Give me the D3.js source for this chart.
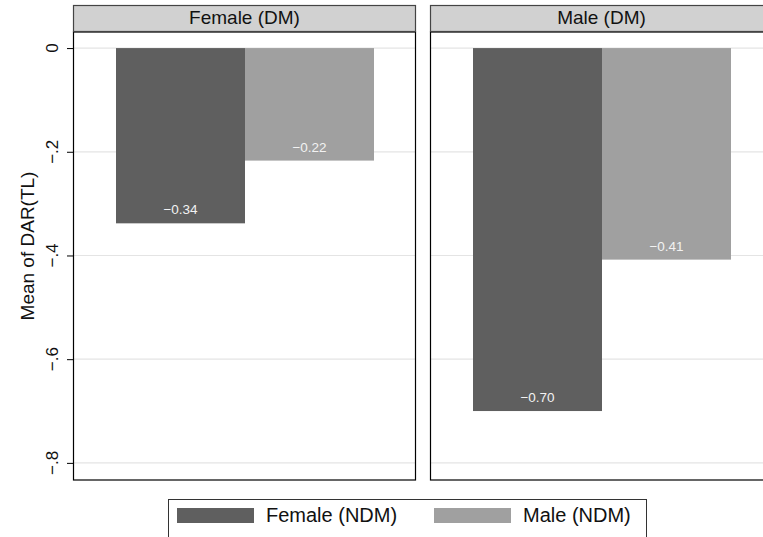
<!DOCTYPE html>
<html>
<head>
<meta charset="utf-8">
<script src="https://cdn.jsdelivr.net/npm/d3@7"></script>
<style>
  body { margin: 0; background: #fff; }
  svg { display: block; font-family: "Liberation Sans", Arial, sans-serif; }
</style>
</head>
<body>
<div id="chart"></div>
<script>
var panels = ["Female (DM)", "Male (DM)"];
var series = ["Female (NDM)", "Male (NDM)"];
var femaleNdm = [-0.338, -0.70];
var maleNdm = [-0.217, -0.408];
var yTicks = [0, -0.2, -0.4, -0.6, -0.8];
var colors = ["#5f5f5f", "#a0a0a0"];

var W = 763, H = 537;
var plotTop = 32, plotBottom = 480;

var svg = d3.select("#chart").append("svg")
    .attr("width", W)
    .attr("height", H);

var panelX = d3.scaleBand()
    .domain(panels)
    .range([73, 773])
    .paddingInner(14 / 357);

var barX = d3.scaleBand()
    .domain(series)
    .range([43, panelX.bandwidth() - 42]);

var y = d3.scaleLinear()
    .domain([-0.833, 0.031])
    .range([plotBottom, plotTop]);

var color = d3.scaleOrdinal().domain(series).range(colors);

var fmt = function(d) {
  if (d === 0) return "0";
  return (d < 0 ? "\u2212" : "") + String(Math.abs(d)).replace(/^0/, "");
};

var rows = panels.map(function(p, i) {
  return { panel: p, values: [femaleNdm[i], maleNdm[i]] };
});

var g = svg.selectAll("g.panel")
  .data(rows)
  .enter().append("g")
    .attr("class", "panel")
    .attr("transform", function(d) { return "translate(" + panelX(d.panel) + ",0)"; });

// gridlines
g.selectAll("line.grid")
  .data(yTicks)
  .enter().append("line")
    .attr("x1", 0)
    .attr("x2", panelX.bandwidth())
    .attr("y1", function(d) { return y(d); })
    .attr("y2", function(d) { return y(d); })
    .attr("stroke", "#e4e4e4")
    .attr("stroke-width", 1.2);

// bars
g.selectAll("rect.bar")
  .data(function(d) {
    return d.values.map(function(v, j) { return { s: series[j], v: v }; });
  })
  .enter().append("rect")
    .attr("x", function(d) { return barX(d.s); })
    .attr("width", barX.bandwidth())
    .attr("y", y(0))
    .attr("height", function(d) { return y(d.v) - y(0); })
    .attr("fill", function(d) { return color(d.s); });

// bar labels
g.selectAll("text.val")
  .data(function(d) {
    return d.values.map(function(v, j) { return { s: series[j], v: v }; });
  })
  .enter().append("text")
    .attr("x", function(d) { return barX(d.s) + barX.bandwidth() / 2; })
    .attr("y", function(d) { return y(d.v) - 9; })
    .attr("text-anchor", "middle")
    .attr("font-size", 13.5)
    .attr("fill", "#f2f2f2")
    .text(function(d) { return d3.format(".2f")(d.v).replace("-", "\u2212"); });

// frame
g.append("rect")
    .attr("x", 0.5)
    .attr("y", plotTop)
    .attr("width", panelX.bandwidth() - 1)
    .attr("height", plotBottom - plotTop)
    .attr("fill", "none")
    .attr("stroke", "#000")
    .attr("stroke-width", 1.2);

// header
g.append("rect")
    .attr("x", 0.5)
    .attr("y", 5.5)
    .attr("width", panelX.bandwidth() - 1)
    .attr("height", 26)
    .attr("fill", "#d1d1d1")
    .attr("stroke", "#444")
    .attr("stroke-width", 1.2);

g.append("text")
    .attr("x", panelX.bandwidth() / 2)
    .attr("y", 24)
    .attr("text-anchor", "middle")
    .attr("font-size", 19)
    .attr("fill", "#111")
    .text(function(d) { return d.panel; });

// y axis
var axis = svg.append("g")
    .attr("transform", "translate(73,0)")
    .call(d3.axisLeft(y).tickValues(yTicks).tickSize(6).tickFormat(""));
axis.select(".domain").remove();
axis.selectAll(".tick line").attr("stroke", "#000");

svg.selectAll("text.ytick")
  .data(yTicks)
  .enter().append("text")
    .attr("transform", function(d) { return "translate(58," + y(d) + ") rotate(-90)"; })
    .attr("text-anchor", "middle")
    .attr("font-size", 17)
    .attr("fill", "#111")
    .text(fmt);

svg.append("text")
    .attr("transform", "translate(34,246) rotate(-90)")
    .attr("text-anchor", "middle")
    .attr("font-size", 19)
    .attr("fill", "#111")
    .text("Mean of DAR(TL)");

// legend
var legend = svg.append("g");
legend.append("rect")
    .attr("x", 168.5)
    .attr("y", 499.5)
    .attr("width", 478)
    .attr("height", 50)
    .attr("fill", "#fff")
    .attr("stroke", "#333")
    .attr("stroke-width", 1);

var legendX = [177, 434];
var item = legend.selectAll("g.item")
  .data(series)
  .enter().append("g")
    .attr("transform", function(d, i) { return "translate(" + legendX[i] + ",508)"; });

item.append("rect")
    .attr("width", 77)
    .attr("height", 15)
    .attr("fill", function(d) { return color(d); });

item.append("text")
    .attr("x", 89)
    .attr("y", 14)
    .attr("font-size", 20)
    .attr("fill", "#111")
    .text(function(d) { return d; });
</script>
</body>
</html>
